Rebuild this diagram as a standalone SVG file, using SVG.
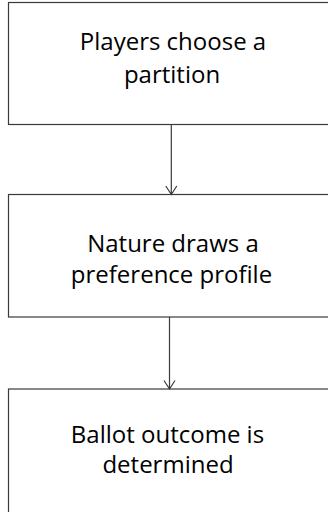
<svg xmlns="http://www.w3.org/2000/svg" width="328" height="512" viewBox="0 0 328 512">
<style>
.box{fill:#fff;stroke:#3a3a3a;stroke-width:1.2}
.lbl{font-family:"Open Sans","Liberation Sans",sans-serif;font-size:24px;fill:#000;text-anchor:middle}
.con{stroke:#3a3a3a;stroke-width:1.2;fill:none}
</style>
<rect width="328" height="512" fill="#fff"/>
<g id="n1">
<rect class="box" x="8.5" y="2.5" width="330" height="122"/>
<text class="lbl" x="173" y="50">Players choose a</text>
<text class="lbl" x="172" y="83">partition</text>
</g>
<g id="n2">
<rect class="box" x="8.5" y="194.5" width="330" height="122.5"/>
<text class="lbl" x="173" y="252">Nature draws a</text>
<text class="lbl" x="171.5" y="283">preference profile</text>
</g>
<g id="n3">
<rect class="box" x="8.5" y="389" width="330" height="140"/>
<text class="lbl" x="167.5" y="443">Ballot outcome is</text>
<text class="lbl" x="168" y="473">determined</text>
</g>
<g id="connectors">
<path class="con" d="M171.3 124.5 V194.5 M165.8 186 L171.3 194.5 L176.8 186"/>
<path class="con" d="M169.5 317 V389 M164 380.5 L169.5 389 L175 380.5"/>
</g>
</svg>
